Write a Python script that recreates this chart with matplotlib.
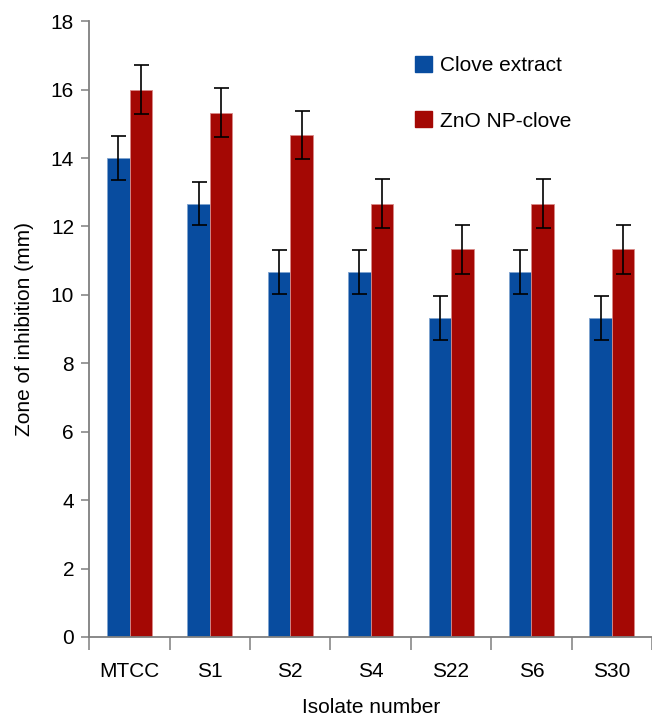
import numpy as np
import matplotlib
matplotlib.use("Agg")
import matplotlib.pyplot as plt
from matplotlib.patches import Patch

plt.rcParams['font.family'] = ['Liberation Sans', 'DejaVu Sans']

# zone of inhibition per isolate (mm)
isolates = ['MTCC', 'S1', 'S2', 'S4', 'S22', 'S6', 'S30']
clove = [14.0, 12.67, 10.67, 10.67, 9.33, 10.67, 9.33]
clove_err = [0.64, 0.64, 0.64, 0.64, 0.64, 0.64, 0.64]
zno = [16.0, 15.33, 14.67, 12.67, 11.33, 12.67, 11.33]
zno_err = [0.71, 0.71, 0.71, 0.71, 0.71, 0.71, 0.71]

blue = '#084c9f'
red = '#a40804'
axis_grey = '#7f7f7f'
fs = 15

fig = plt.figure(figsize=(6.52, 7.17), dpi=100)
ax = fig.add_axes([0.137, 0.1116, 0.863, 0.8588])

x = np.arange(len(isolates))
w = 0.28
err_kw = dict(ecolor='black', elinewidth=1.2, capsize=5.4, capthick=1.2)
ax.bar(x - w / 2, clove, w, color=blue, edgecolor='#7fa3cf', linewidth=0.6,
       yerr=clove_err, error_kw=err_kw, label='Clove extract')
ax.bar(x + w / 2, zno, w, color=red, edgecolor='#d98a88', linewidth=0.6,
       yerr=zno_err, error_kw=err_kw, label='ZnO NP-clove')

ax.set_xlim(-0.5, len(isolates) - 0.5)
ax.set_ylim(0, 18)
ax.set_yticks(np.arange(0, 19, 2))

# boundary ticks between groups, names centred under each group
ax.set_xticks(np.arange(-0.5, len(isolates), 1.0))
ax.set_xticklabels([])
ax.set_xticks(x, minor=True)
ax.set_xticklabels(isolates, minor=True)
ax.tick_params(axis='x', which='major', direction='out', length=9, width=1.1,
               color=axis_grey)
ax.tick_params(axis='x', which='minor', length=0, pad=18, labelsize=fs)
ax.tick_params(axis='y', direction='out', length=6, width=1.1, color=axis_grey,
               pad=5, labelsize=fs)

for side in ['top', 'right']:
    ax.spines[side].set_visible(False)
for side in ['left', 'bottom']:
    ax.spines[side].set_color(axis_grey)
    ax.spines[side].set_linewidth(1.3)

ax.set_xlabel('Isolate number', fontsize=fs, labelpad=12)
ax.set_ylabel('Zone of inhibition (mm)', fontsize=fs, labelpad=12)

handles = [Patch(facecolor=blue, edgecolor=blue), Patch(facecolor=red, edgecolor=red)]
ax.legend(handles, ['Clove extract', 'ZnO NP-clove'], loc='upper left',
          bbox_to_anchor=(0.579, 0.944), frameon=False, fontsize=fs,
          handlelength=0.8, handleheight=0.8, handletextpad=0.4,
          labelspacing=1.75, borderpad=0, borderaxespad=0)

fig.savefig('out.png', dpi=100)
